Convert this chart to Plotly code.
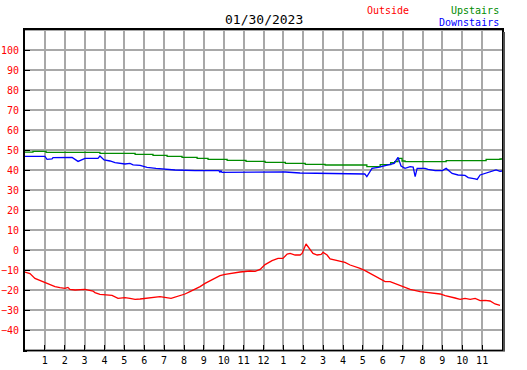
import plotly.graph_objects as go

# ---------------- data ----------------
outside_hours = [0, 0.25, 0.5, 0.75, 1.0, 1.26, 1.51, 1.76, 2.01, 2.16, 2.26, 2.52, 2.77, 3.02,
                 3.42, 3.52, 3.77, 4.03, 4.38, 4.68, 5.03, 5.28, 5.54, 5.79, 6.29, 6.79, 7.35,
                 7.8, 8.05, 8.3, 8.56, 8.81, 9.06, 9.31, 9.56, 9.81, 10.07, 10.32, 10.82, 11.32,
                 11.58, 11.83, 12.08, 12.43, 12.73, 12.98, 13.19, 13.34, 13.59, 13.84, 13.94,
                 14.14, 14.34, 14.49, 14.7, 14.9, 15.0, 15.2, 15.35, 15.6, 15.85, 16.1, 16.36,
                 16.61, 16.86, 17.11, 17.36, 17.61, 17.87, 18.12, 18.37, 18.62, 18.87, 19.12,
                 19.38, 19.88, 20.38, 20.89, 21.14, 21.39, 21.64, 21.89, 22.14, 22.4, 22.65,
                 22.9, 23.15, 23.4, 23.65, 23.9]
outside_temps = [-11, -11.8, -14.2, -15.3, -16, -17.5, -18.3, -18.8, -19.2, -18.7, -19.7, -20,
                 -19.7, -19.7, -20.5, -21.3, -22.2, -22.5, -22.7, -24.2, -23.8, -24.2, -24.7,
                 -24.5, -23.8, -23.3, -24.2, -23, -22, -20.8, -19.7, -18.3, -16.7, -15.3, -13.8,
                 -12.8, -12.2, -11.7, -11, -10.5, -10.7, -9.7, -7.3, -5.3, -4.2, -4.2, -2, -1.7,
                 -2.5, -2.5, -1.7, 3, 0, -1.7, -2.5, -2.2, -1.2, -2.5, -4.5, -5, -5.5, -6.2,
                 -7.5, -8.3, -9.2, -10.3, -11.7, -12.8, -14.4, -15.8, -15.8, -16.7, -17.5,
                 -18.7, -19.7, -20.8, -21.3, -22, -22.8, -23.3, -24, -24.7, -24.2, -24.7, -24.2,
                 -25.3, -25.2, -25.5, -27, -27.7]

upstairs_hours = [0, 0.4, 1.06, 3.77, 5.54, 6.44, 7.15, 7.9, 8.66, 9.21, 10.17, 11.12, 12.08,
                  13.1, 14.1, 15.1, 15.85, 17.1, 17.2, 17.87, 18.4, 18.6, 18.77, 18.97, 19.12,
                  21.14, 21.19, 23.15, 23.2, 23.9, 24.0]
upstairs_temps = [48.9, 49.3, 48.8, 48.3, 47.8, 47.3, 46.8, 46.3, 45.8, 45.3, 44.8, 44.3, 43.8,
                  43.3, 42.8, 42.5, 42.5, 42.5, 41.7, 42.7, 43.7, 44.2, 45.8, 44.5, 44.2,
                  44.2, 44.7, 44.7, 45.3, 45.5, 45.8]

downstairs_hours = [0, 1.0, 1.11, 1.36, 1.41, 2.01, 2.37, 2.67, 3.02, 3.67, 3.77, 3.98, 4.28,
                    4.53, 4.78, 5.03, 5.28, 5.44, 5.79, 6.14, 6.59, 7.05, 7.55, 8.56, 9.76,
                    9.81, 9.86, 9.91, 11.83, 13.1, 13.84, 15.85, 17.1, 17.2, 17.46, 17.77,
                    18.22, 18.57, 18.77, 18.92, 19.12, 19.38, 19.53, 19.63, 19.73, 20.13,
                    20.28, 20.64, 21.0, 21.19, 21.49, 21.79, 22.14, 22.3, 22.65, 22.75, 22.9,
                    23.15, 23.4, 23.6, 23.7, 23.9, 24.0]
downstairs_temps = [46.8, 46.8, 45.3, 45.5, 46.2, 46.3, 46.3, 44.3, 45.8, 45.8, 47, 45, 44.5,
                    43.7, 43.2, 43, 43.3, 42.6, 42.3, 41.3, 40.8, 40.3, 40, 39.7, 39.7, 38.8,
                    39.7, 38.8, 38.8, 39.0, 38.5, 38.2, 38, 36.7, 40.8, 41.3, 42.5, 43.3, 46.3,
                    42, 40.8, 41.7, 41.5, 36.7, 40.8, 40.8, 40.3, 39.7, 39.7, 40.8, 38.3, 37.5,
                    37.3, 36.2, 35.6, 35.3, 37.5, 38.3, 39.2, 39.5, 40, 39.3, 39.5]

hour_ticks = list(range(1, 24))
hour_labels = ["1", "2", "3", "4", "5", "6", "7", "8", "9", "10", "11", "12",
               "1", "2", "3", "4", "5", "6", "7", "8", "9", "10", "11"]
temp_ticks = list(range(-40, 101, 10))
temp_grid = list(range(-50, 111, 10))

title_text = "01/30/2023"
series_names = ["Outside", "Upstairs", "Downstairs"]
# ----------------------------------------------------------------

MONO = "DejaVu Sans Mono"
RED, GREEN, BLUE = "#ff0000", "#008c00", "#0000ff"
PW, PH = 477, 320  # plot area in px
FW, FH = 527, 370
ML, MT = 25, 30

fig = go.Figure()
fig.add_trace(go.Scatter(x=upstairs_hours, y=upstairs_temps, mode="lines",
                         line=dict(color=GREEN, width=1.3, shape="hv"), name=series_names[1]))
fig.add_trace(go.Scatter(x=downstairs_hours, y=downstairs_temps, mode="lines",
                         line=dict(color=BLUE, width=1.3), name=series_names[2]))
fig.add_trace(go.Scatter(x=outside_hours, y=outside_temps, mode="lines",
                         line=dict(color=RED, width=1.3), name=series_names[0]))

fig.update_xaxes(range=[0, 24], tickvals=hour_ticks, ticktext=hour_labels, automargin=False,
                 ticks="inside", ticklen=5, tickcolor="black", tickwidth=1,
                 showgrid=True, gridcolor="#a8a8a8", gridwidth=2,
                 showline=True, linecolor="black", linewidth=2, mirror=True,
                 zeroline=False, tickfont=dict(family=MONO, size=10, color="black"))
fig.update_yaxes(range=[-50, 110], tickvals=temp_ticks, automargin=False,
                 ticks="inside", ticklen=5, tickcolor="black", tickwidth=1,
                 ticklabelstandoff=2,
                 showgrid=False, showline=True, linecolor="black", linewidth=2, mirror=True,
                 zeroline=False, tickfont=dict(family=MONO, size=10, color=RED))

# horizontal gridlines (every 10, including those without labels)
shapes = []
for v in temp_grid:
    shapes.append(dict(type="line", xref="paper", yref="y", x0=0, x1=1, y0=v, y1=v,
                       line=dict(color="#a8a8a8", width=2), layer="below"))
# right/bottom shadow of the frame
shapes.append(dict(type="rect", xref="paper", yref="paper", x0=1.0 + 1 / PW, x1=1.0 + 3 / PW,
                   y0=-2 / PH, y1=1 - 2 / PH, line=dict(width=0), fillcolor="#505050"))
shapes.append(dict(type="rect", xref="paper", yref="paper", x0=2 / PW, x1=1.0 + 3 / PW,
                   y0=-2 / PH, y1=-1 / PH, line=dict(width=0), fillcolor="#909090"))

annotations = [
    dict(text=title_text, xref="paper", yref="paper", x=0.5, y=1.0, xanchor="center",
         yanchor="bottom", yshift=1, showarrow=False,
         font=dict(family=MONO, size=13, color="black")),
    dict(text=series_names[0], xref="paper", yref="paper", x=(411 - 25) / PW, y=1.0,
         xanchor="right", yanchor="bottom", yshift=12, showarrow=False,
         font=dict(family=MONO, size=10, color=RED)),
    dict(text=series_names[1], xref="paper", yref="paper", x=(501 - 25) / PW, y=1.0,
         xanchor="right", yanchor="bottom", yshift=12, showarrow=False,
         font=dict(family=MONO, size=10, color=GREEN)),
    dict(text=series_names[2], xref="paper", yref="paper", x=(501 - 25) / PW, y=1.0,
         xanchor="right", yanchor="bottom", yshift=0, showarrow=False,
         font=dict(family=MONO, size=10, color=BLUE)),
]

fig.update_layout(width=FW, height=FH,
                  margin=dict(l=ML, r=FW - ML - PW, t=MT, b=FH - MT - PH, autoexpand=False),
                  paper_bgcolor="white", plot_bgcolor="white", showlegend=False,
                  shapes=shapes, annotations=annotations)

# remove the browser's default 8px body margin so the figure sits at the page origin
fig.write_html("out.html", config={"displayModeBar": False, "staticPlot": True},
               post_script="document.body.style.margin='0px';"
                           "document.body.style.overflow='hidden';")
